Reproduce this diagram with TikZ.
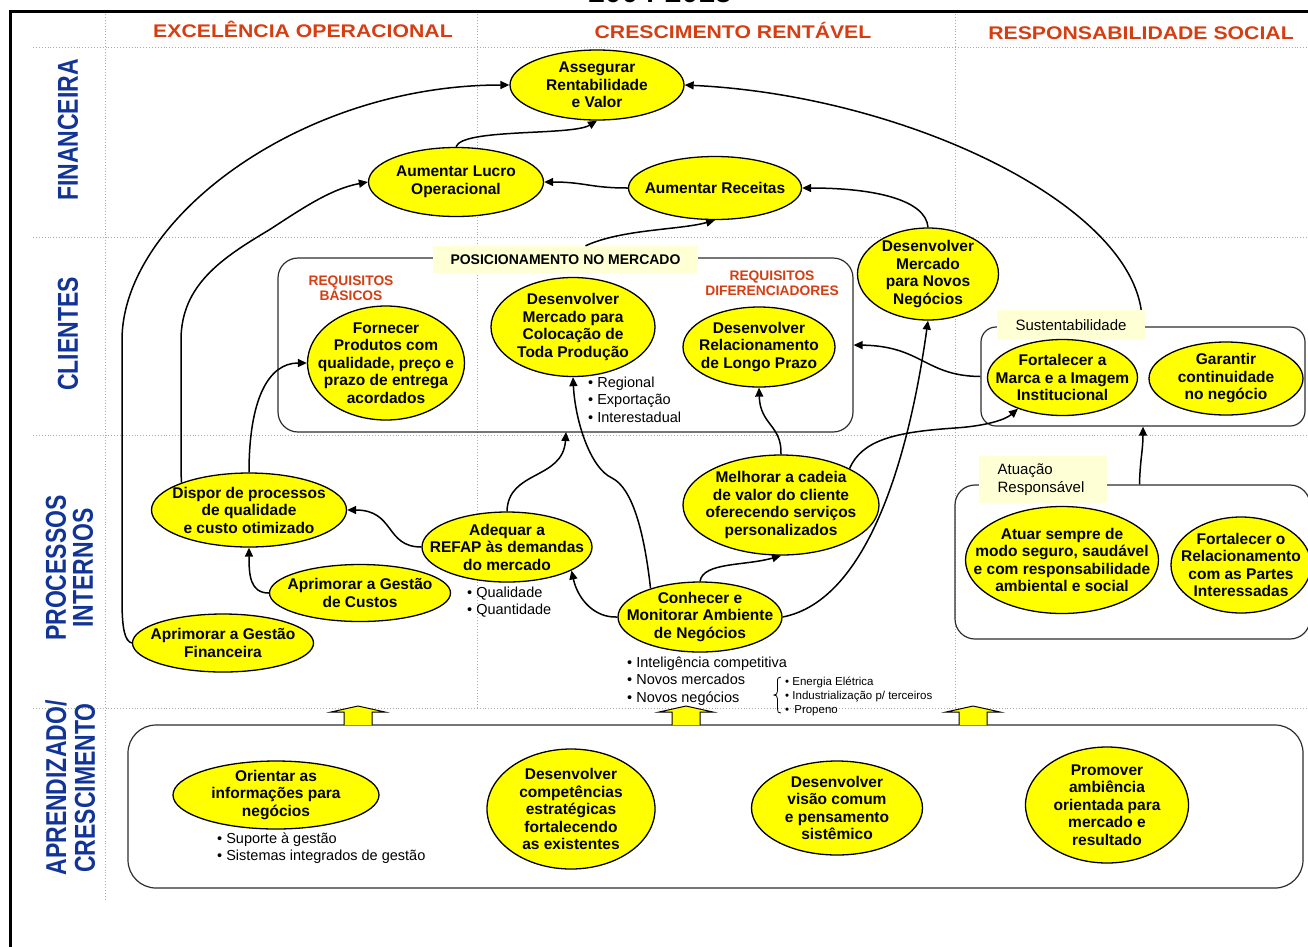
\documentclass[tikz,border=0pt]{standalone}
\usepackage{fontspec}
\setmainfont{Liberation Sans}
\usetikzlibrary{shapes.geometric,arrows.meta,calc}

\definecolor{goalyellow}{RGB}{255,255,0}
\definecolor{cream}{RGB}{255,255,214}
\definecolor{hdrred}{RGB}{212,62,18}
\definecolor{lblblue}{RGB}{18,52,150}
\definecolor{dotgray}{RGB}{170,170,170}
\definecolor{boxgray}{RGB}{45,45,45}

\newcommand\goalfont{\fontsize{15.5}{17.5}\selectfont\bfseries}
\newcommand\notefont{\fontsize{14.5}{17.5}\selectfont}
\newcommand\smallnotefont{\fontsize{11.5}{14}\selectfont}
\newcommand\hdrfont{\fontsize{18.3}{20}\selectfont\bfseries}
\newcommand\perspfont{\fontsize{23}{25}\selectfont\bfseries}
\newcommand\reqfont{\fontsize{13.8}{15.5}\selectfont\bfseries}
\newcommand\tagfont{\fontsize{15}{18}\selectfont}

\tikzset{
  goal/.style 2 args={ellipse, draw=black, line width=1.3pt, fill=goalyellow,
    inner sep=0pt, minimum width=#1, minimum height=#2},
  gtext/.style={align=center, font=\goalfont, inner sep=0pt},
  link/.style={line width=1.5pt, -{Triangle[width=8pt,length=9pt]}},
  note/.style={align=left, font=\notefont, inner sep=0pt, anchor=north west},
  panel/.style={draw=boxgray, line width=1.2pt},
  tag/.style={fill=cream, inner sep=0pt},
  grid/.style={draw=dotgray, dotted, line width=0.9pt},
  persp/.style={rotate=90, font=\perspfont, text=lblblue, inner sep=0pt},
  hdr/.style={font=\hdrfont, text=hdrred, inner sep=0pt, anchor=base},
  req/.style={font=\reqfont, text=hdrred, align=center, inner sep=0pt},
  blockup/.style={fill=goalyellow, draw=black, line width=1pt, line join=miter},
}

\newcommand\hstretch[1]{\scalebox{1.16}[1]{#1}}
\newcommand\vstretch[1]{\scalebox{1}[1.25]{#1}}

\begin{document}
\begin{tikzpicture}[x=1pt,y=-1pt]
\useasboundingbox (0,0) rectangle (1308,946);
\clip (0,0) rectangle (1308,946);

% ---------- grid of perspectives and themes ----------
\draw[grid] (33,47) -- (1308,47);
\draw[grid] (33,237) -- (1308,237);
\draw[grid] (33,435) -- (1308,435);
\draw[grid] (33,708) -- (1308,708);
\draw[grid] (105,14) -- (105,900);
\draw[grid] (477,14) -- (477,708);
\draw[grid] (955,14) -- (955,708);

% outer frame and period
\draw[line width=3pt] (10,970) -- (10,11.5) -- (1330,11.5);
\node[font=\fontsize{30}{32}\selectfont\bfseries, anchor=base, inner sep=0pt] (period) at (660,2) {2004-2015};

% theme headers
\node[hdr] (hex) at (303,37.5) {\hstretch{EXCELÊNCIA OPERACIONAL}};
\node[hdr] (hcr) at (733,38.5) {\hstretch{CRESCIMENTO RENTÁVEL}};
\node[hdr] (hrs) at (1141,39) {\hstretch{RESPONSABILIDADE SOCIAL}};

% perspective labels
\node[persp] (pfin) at (68,130) {\vstretch{FINANCEIRA}};
\node[persp] (pcli) at (68,334) {\vstretch{CLIENTES}};
\node[persp] (ppro1) at (56,568) {\vstretch{PROCESSOS}};
\node[persp] (ppro2) at (83,568) {\vstretch{INTERNOS}};
\node[persp] (papr1) at (56,788) {\vstretch{APRENDIZADO/}};
\node[persp] (papr2) at (85,788) {\vstretch{CRESCIMENTO}};

% ---------- grouping panels ----------
\node[panel, rounded corners=20pt, minimum width=575, minimum height=174] (pos) at (565.5,345) {};
\node[tag, minimum width=265, minimum height=27, font=\fontsize{14}{16}\selectfont\bfseries] (posl) at (565.5,259.5) {POSICIONAMENTO NO MERCADO};
\coordinate (posb) at (566,432);

\node[panel, rounded corners=15pt, minimum width=324, minimum height=99] (sus) at (1143,376.5) {};
\node[tag, minimum width=148, minimum height=30, font=\tagfont] (susl) at (1071,325) {Sustentabilidade};

\node[panel, rounded corners=20pt, minimum width=355, minimum height=154] (atu) at (1132.5,562) {};
\node[tag, minimum width=128, minimum height=47] (atul) at (1043,479.5) {};
\node[align=left, font=\tagfont, inner sep=0pt] (atul-t) at (1041,480) {Atuação\\Responsável};

\node[panel, rounded corners=28pt, minimum width=1175, minimum height=163] (apr) at (715.5,806.5) {};

% ---------- objectives ----------
% financial
\node[goal={174}{70}] (ass) at (597,85) {};
\node[gtext] (ass-t) at (ass) {Assegurar\\Rentabilidade\\e Valor};
\node[goal={175}{69}] (luc) at (456,182) {};
\node[gtext] (luc-t) at (luc) {Aumentar Lucro\\Operacional};
\node[goal={173}{63}] (rec) at (715,188) {};
\node[gtext] (rec-t) at (rec) {Aumentar Receitas};

% customers
\node[req] (reqb) at (351,288) {REQUISITOS\\BÁSICOS};
\node[req] (reqd) at (772,283) {REQUISITOS\\DIFERENCIADORES};
\node[goal={157}{114}] (frn) at (386,363) {};
\node[gtext] (frn-t) at (frn) {Fornecer\\Produtos com\\qualidade, preço e\\prazo de entrega\\acordados};
\node[goal={164}{99}] (dsm) at (573,327) {};
\node[gtext] (dsm-t) at (dsm) {Desenvolver\\Mercado para\\Colocação de\\Toda Produção};
\node[note] (dsm-n) at (588,376.5) {• Regional\\• Exportação\\• Interestadual};
\node[goal={152}{80}] (rel) at (759,347) {};
\node[gtext] (rel-t) at (rel) {Desenvolver\\Relacionamento\\de Longo Prazo};
\node[goal={141}{92}] (nov) at (928,274) {};
\node[gtext] (nov-t) at (nov) {Desenvolver\\Mercado\\para Novos\\Negócios};
\node[goal={150}{76}] (mar) at (1062.5,377.5) {};
\node[gtext] (mar-t) at (mar) {Fortalecer a\\Marca e a Imagem\\Institucional};
\node[goal={154}{73}] (gar) at (1226,378.5) {};
\node[gtext] (gar-t) at (gar) {Garantir\\continuidade\\no negócio};

% internal processes
\node[goal={195}{74}] (dis) at (249,510) {};
\node[gtext] (dis-t) at (dis) {Dispor de processos\\de qualidade\\e custo otimizado};
\node[goal={181}{57}] (cus) at (360,593) {};
\node[gtext] (cus-t) at (cus) {Aprimorar a Gestão\\de Custos};
\node[goal={181}{58}] (fin) at (223,643) {};
\node[gtext] (fin-t) at (fin) {Aprimorar a Gestão\\Financeira};
\node[goal={170}{70}] (adq) at (507,547) {};
\node[gtext] (adq-t) at (adq) {Adequar a\\REFAP às demandas\\do mercado};
\node[note] (adq-n) at (467,586.5) {• Qualidade\\• Quantidade};
\node[goal={164}{70}] (con) at (700,617) {};
\node[gtext] (con-t) at (con) {Conhecer e\\Monitorar Ambiente\\de Negócios};
\node[note] (con-n) at (627,656.5) {• Inteligência competitiva\\• Novos mercados\\• Novos negócios};
\node[align=left, font=\smallnotefont, inner sep=0pt, anchor=north west] (neg-n) at (785,677)
  {• Energia Elétrica\\• Industrialização p/ terceiros\\•\, Propeno};
\draw[line width=0.8pt] (781,677) .. controls (778,677) and (777.5,678) .. (777.5,682) -- (777.5,691)
  .. controls (777.5,694) and (776,695) .. (774,695) .. controls (776,695) and (777.5,696) .. (777.5,699)
  -- (777.5,709) .. controls (777.5,712) and (778,713) .. (781,713);
\node[goal={196}{100}] (mel) at (781,505) {};
\node[gtext] (mel-t) at (mel) {Melhorar a cadeia\\de valor do cliente\\oferecendo serviços\\personalizados};
\node[goal={193}{107}] (atm) at (1062,560) {};
\node[gtext] (atm-t) at (atm) {Atuar sempre de\\modo seguro, saudável\\e com responsabilidade\\ambiental e social};
\node[goal={140}{96}] (prt) at (1241,565) {};
\node[gtext] (prt-t) at (prt) {Fortalecer o\\Relacionamento\\com as Partes\\Interessadas};

% learning and growth
\node[goal={206}{68}] (ori) at (276,795) {};
\node[gtext] (ori-t) at (ori) {Orientar as\\informações para\\negócios};
\node[note] (ori-n) at (217,832.5) {• Suporte à gestão\\• Sistemas integrados de gestão};
\node[goal={168}{120}] (cmp) at (571,809) {};
\node[gtext] (cmp-t) at (cmp) {Desenvolver\\competências\\estratégicas\\fortalecendo\\as existentes};
\node[goal={171}{94}] (vis) at (837,808) {};
\node[gtext] (vis-t) at (vis) {Desenvolver\\visão comum\\e pensamento\\sistêmico};
\node[goal={163}{116}] (amb) at (1107,805) {};
\node[gtext] (amb-t) at (amb) {Promover\\ambiência\\orientada para\\mercado e\\resultado};

% block arrows from the learning panel
\foreach \c in {358,686,973}{
  \draw[blockup] (\c-14,725) -- (\c-14,712) -- (\c-27,712) -- (\c,706) -- (\c+27,712) -- (\c+14,712) -- (\c+14,725);
}

% ---------- cause and effect links ----------
\draw[link] (fin.west) .. controls (125,641) and (122,630) .. (122,600) -- (122,340)
  .. controls (122,220) and (300,85) .. (ass.west);
\draw[link] (dis.158) .. controls (181,470) .. (181,440) -- (181,340)
  .. controls (181,285) and (222,258) .. (269,230)
  .. controls (300,210) and (330,189) .. (luc.west);
\draw[link] (dis.north) .. controls (249,400) and (268,363) .. (frn.west);
\draw[link] (adq.west) .. controls (385,547) and (395,510) .. (dis.east);
\draw[link] (cus.west) .. controls (250,593) and (249,575) .. (dis.south);
\draw[link] (adq.north) .. controls (508,470) and (563,480) .. (posb);
\draw[link] (con.west) .. controls (595,618) and (578,600) .. (adq.-20);
\draw[link] (con.150) .. controls (644,530) and (632,488) .. (612,478)
  .. controls (590,468) and (575,420) .. (dsm.south);
\draw[link] (con.north) .. controls (703,562) and (745,566) .. (mel.south);
\draw[link] (con.east) .. controls (870,600) and (910,450) .. (nov.south);
\draw[link] (mel.north) .. controls (782,425) and (760,425) .. (rel.south);
\draw[link] (mel.28) .. controls (862,440) and (895,432) .. (955,428)
  .. controls (985,426) and (1005,420) .. (mar.-145);
\draw[link] (sus.west) .. controls (925,376) and (922,346) .. (pos.east);
\draw[link] (nov.north) .. controls (926,200) and (875,188) .. (rec.east);
\draw[link] ($(posl.north)+(20,0)$) .. controls (622,229) and (680,230) .. (rec.south);
\draw[link] (luc.north) .. controls (462,128) and (572,136) .. (ass.south);
\draw[link] (rec.west) .. controls (590,188) and (585,182) .. (luc.east);
\draw[link] ($(susl.north east)+(-4,0)$) .. controls (1125,200) and (900,95) .. (ass.east);
\draw[link] ($(atu.north)+(7,0)$) .. controls (1140,460) and (1143,450) .. (sus.south);

\end{tikzpicture}
\end{document}
